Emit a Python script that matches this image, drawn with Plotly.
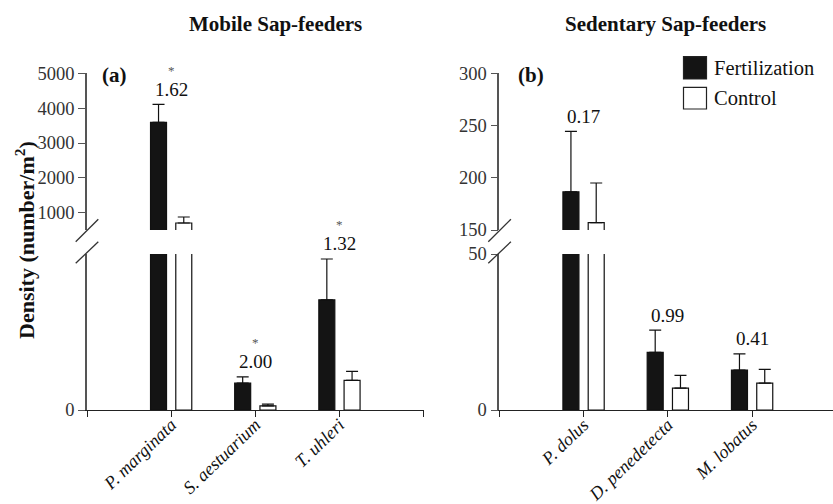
import plotly.graph_objects as go

W, H = 833, 504

# ---------------- data ----------------
series_names = ["Fertilization", "Control"]

mobile_species = ["P. marginata", "S. aestuarium", "T. uhleri"]
mobile_fert = [3590, 86, 353]
mobile_fert_se = [516, 20, 131]
mobile_ctrl = [705, 13, 95]
mobile_ctrl_se = [172, 6, 29]
mobile_p = ["1.62", "2.00", "1.32"]
mobile_sig = [True, True, True]

sed_species = ["P. dolus", "D. penedetecta", "M. lobatus"]
sed_fert = [186.6, 18.5, 12.8]
sed_fert_se = [57.8, 7.1, 5.2]
sed_ctrl = [157, 7.0, 8.6]
sed_ctrl_se = [38, 4.1, 4.4]
sed_p = ["0.17", "0.99", "0.41"]
sed_sig = [False, False, False]

mobile_upper_ticks = [1000, 2000, 3000, 4000, 5000]
mobile_lower_ticks = [0]
sed_upper_ticks = [150, 200, 250, 300]
sed_lower_ticks = [0, 50]

mobile_upper_range = [504, 5000]
mobile_lower_range = [0, 500]
sed_upper_range = [150, 300]
sed_lower_range = [0, 50]

# ---------------- style ----------------
FONT = "Liberation Serif"
FERT_COLOR = "#141414"
CTRL_COLOR = "#ffffff"
BAR_W = 0.19
OFFSETS = [-0.245, 0.055]

def px_x(p):
    return p / W

def px_y(p):
    return 1 - p / H

upper_dom = [px_y(230), px_y(73.3)]
lower_dom = [px_y(410), px_y(254)]
xa_dom = [px_x(87), px_x(423.6)]
xb_dom = [px_x(499.3), 1.0]

fig = go.Figure()

def add_bars(xax, y_lower, y_upper, upper_min, fert, fert_se, ctrl, ctrl_se):
    n = len(fert)
    for yax in (y_lower, y_upper):
        for i, (vals, se, col) in enumerate([(fert, fert_se, FERT_COLOR),
                                             (ctrl, ctrl_se, CTRL_COLOR)]):
            if yax == y_upper:
                idx = [k for k in range(n) if vals[k] + se[k] >= upper_min]
            else:
                idx = list(range(n))
            fig.add_trace(go.Bar(
                x=idx, y=[vals[k] for k in idx], xaxis=xax, yaxis=yax,
                width=BAR_W, offset=OFFSETS[i],
                marker=dict(color=col, line=dict(color="#111111", width=1.2)),
                error_y=dict(type="data", symmetric=False,
                             array=[se[k] for k in idx],
                             arrayminus=[0] * len(idx), color="#111111",
                             thickness=1.2, width=6),
                name=series_names[i], showlegend=False,
            ))

add_bars("x", "y", "y2", mobile_upper_range[0],
         mobile_fert, mobile_fert_se, mobile_ctrl, mobile_ctrl_se)
add_bars("x2", "y3", "y4", sed_upper_range[0],
         sed_fert, sed_fert_se, sed_ctrl, sed_ctrl_se)

tickfont = dict(family=FONT, size=18.5, color="#333333")

def xaxis_cfg(dom, rng, names, anchor):
    return dict(domain=dom, range=rng, anchor=anchor,
                tickvals=[-1, 0, 1, 2, 3],
                ticktext=[""] + ["<i>%s</i>" % s for s in names] + [""],
                tickangle=-44, ticks="outside", ticklen=6, tickwidth=1.2,
                tickcolor="#222222", showline=True, linecolor="#222222",
                linewidth=1.4, showgrid=False, zeroline=False,
                ticklabelstandoff=-10,
                tickfont=dict(family=FONT, size=18, color="#111111"),
                automargin=False, fixedrange=True)

def yaxis_cfg(dom, rng, ticks, anchor):
    return dict(domain=dom, range=rng, anchor=anchor, tickvals=ticks,
                ticks="outside", ticklen=7, tickwidth=1.2, tickcolor="#555555",
                showline=True, linecolor="#555555", linewidth=1.5,
                showgrid=False, zeroline=False, tickfont=tickfont,
                automargin=False, fixedrange=True)

fig.update_layout(
    width=W, height=H,
    margin=dict(l=0, r=0, t=0, b=0, pad=0, autoexpand=False),
    paper_bgcolor="white", plot_bgcolor="white",
    barmode="overlay", showlegend=False,
    font=dict(family=FONT, color="#111111"),
    xaxis=xaxis_cfg(xa_dom, [-1, 3], mobile_species, "y"),
    xaxis2=xaxis_cfg(xb_dom, [-1, 2.96], sed_species, "y3"),
    yaxis=yaxis_cfg(lower_dom, mobile_lower_range, mobile_lower_ticks, "x"),
    yaxis2=yaxis_cfg(upper_dom, mobile_upper_range, mobile_upper_ticks, "x"),
    yaxis3=yaxis_cfg(lower_dom, sed_lower_range, sed_lower_ticks, "x2"),
    yaxis4=yaxis_cfg(upper_dom, sed_upper_range, sed_upper_ticks, "x2"),
)

annotations = []
shapes = []

# p-values and asterisks
def add_stats(xref, y_lower, y_upper, upper_rng, lower_rng, fert, fert_se, pvals, sig):
    for i, (v, s, p, g) in enumerate(zip(fert, fert_se, pvals, sig)):
        top = v + s
        if top >= upper_rng[0]:
            yref, yy = y_upper, min(top, upper_rng[1])
        else:
            yref, yy = y_lower, min(top, lower_rng[1])
        annotations.append(dict(x=i, y=yy, xref=xref, yref=yref, text=p,
                                showarrow=False, xanchor="center",
                                yanchor="middle", yshift=15,
                                font=dict(family=FONT, size=19, color="#111111")))
        if g:
            annotations.append(dict(x=i, y=yy, xref=xref, yref=yref, text="*",
                                    showarrow=False, xanchor="center",
                                    yanchor="middle", yshift=34,
                                    font=dict(family=FONT, size=13, color="#555555")))

add_stats("x", "y", "y2", mobile_upper_range, mobile_lower_range,
          mobile_fert, mobile_fert_se, mobile_p, mobile_sig)
add_stats("x2", "y3", "y4", sed_upper_range, sed_lower_range,
          sed_fert, sed_fert_se, sed_p, sed_sig)

def paper_text(x, y, text, size, xanchor="center", angle=0):
    annotations.append(dict(x=px_x(x), y=px_y(y), xref="paper", yref="paper",
                            text=text, showarrow=False, xanchor=xanchor,
                            yanchor="middle", textangle=angle,
                            font=dict(family=FONT, size=size, color="#111111")))

# titles and labels
paper_text(275, 24, "<b>Mobile Sap-feeders</b>", 21)
paper_text(665, 24, "<b>Sedentary Sap-feeders</b>", 21)
paper_text(100, 75, "<b>(a)</b>", 21, xanchor="left")
paper_text(516, 75, "<b>(b)</b>", 21, xanchor="left")
paper_text(25, 240, "<b>Density (number/m<sup>2</sup>)</b>", 22, angle=-90)

# legend (manual)
leg_rows = [(56.7, 79, FERT_COLOR), (87.3, 109, CTRL_COLOR)]
for name, (y0, y1, col) in zip(series_names, leg_rows):
    shapes.append(dict(type="rect", xref="paper", yref="paper",
                       x0=px_x(683.5), x1=px_x(706.5), y0=px_y(y1), y1=px_y(y0),
                       fillcolor=col, line=dict(color="#222222", width=1.2)))
    paper_text(712, (y0 + y1) / 2, name, 20.5, xanchor="left")

# axis break marks
for ax0 in (75.7, 488.3):
    for (ya, yb) in ((241.7, 219.3), (263.3, 241.7)):
        shapes.append(dict(type="line", xref="paper", yref="paper",
                           x0=px_x(ax0), y0=px_y(ya), x1=px_x(ax0 + 22.6),
                           y1=px_y(yb), line=dict(color="#333333", width=1.3)))

fig.update_layout(annotations=annotations, shapes=shapes)

fig.write_html("out.html")
